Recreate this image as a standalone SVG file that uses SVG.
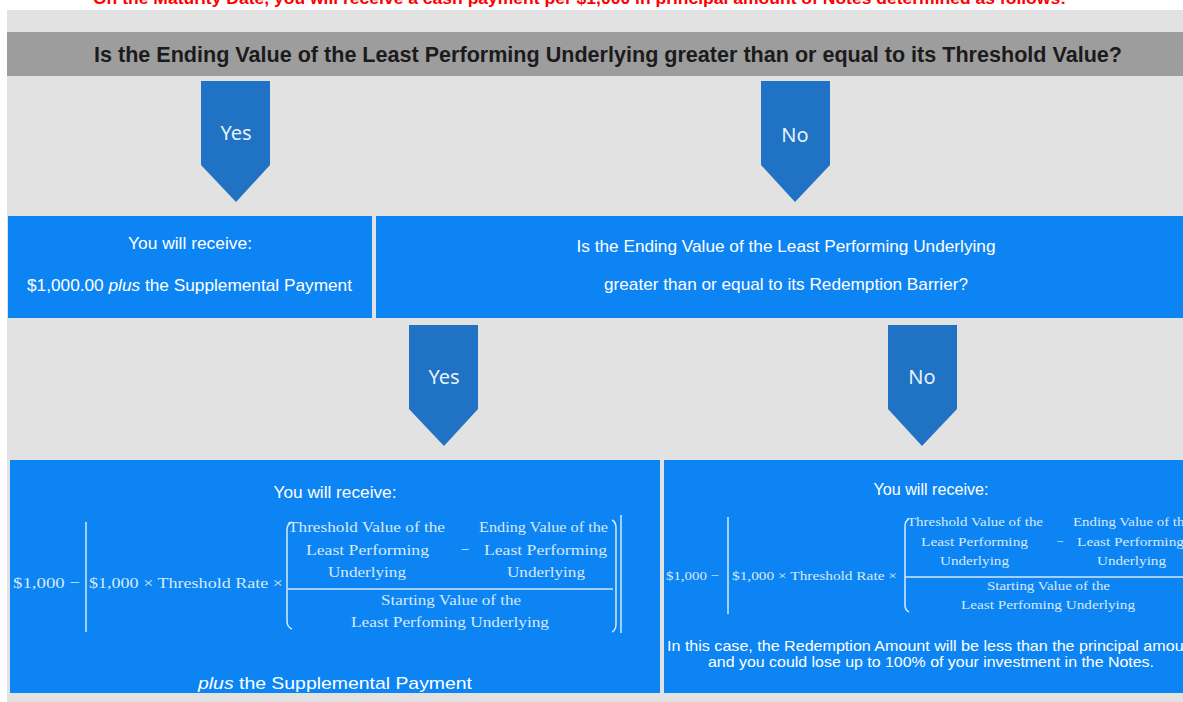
<svg xmlns="http://www.w3.org/2000/svg" width="1183" height="702" viewBox="0 0 1183 702">
<defs>
<style>
.sans{font-family:"Liberation Sans",Arial,sans-serif}
.hdr{font-family:"Liberation Sans",Arial,sans-serif;font-weight:bold;font-size:22px;fill:#1b1b1b}
.red{font-family:"Liberation Sans",Arial,sans-serif;font-weight:bold;font-size:17px;fill:#ff0000}
.wt{font-family:"Liberation Sans",Arial,sans-serif;font-size:17px;fill:#ffffff}
.arr{fill:#1f72c4}
.arrt{font-family:"Noto Sans","Open Sans",sans-serif;font-size:20px;fill:#e6f1fb}
.box{fill:#0d84f3}
.fm{font-family:"Liberation Serif","Times New Roman",serif;font-size:15.5px;fill:#d6eafc}
.fs{font-family:"Liberation Serif","Times New Roman",serif;font-size:13px;fill:#d6eafc}
.ln{stroke:#d6eafc;fill:none;stroke-width:1.5}
.note{font-family:"Liberation Sans",Arial,sans-serif;font-size:15px;fill:#ffffff}
</style>
</defs>
<rect x="0" y="0" width="1183" height="702" fill="#ffffff"/>
<rect x="7" y="10" width="1176" height="692" fill="#e2e2e2"/>
<text class="red" x="93" y="4" textLength="973" lengthAdjust="spacingAndGlyphs">On the Maturity Date, you will receive a cash payment per $1,000 in principal amount of Notes determined as follows:</text>

<g id="q1">
<rect x="7" y="32" width="1176" height="44" fill="#9d9d9d"/>
<text class="hdr" x="94" y="62" textLength="1028" lengthAdjust="spacingAndGlyphs">Is the Ending Value of the Least Performing Underlying greater than or equal to its Threshold Value?</text>
</g>

<g id="connectors">
<g id="yes1"><polygon class="arr" points="201,81 270,81 270,165 236,202 201,165"/><text class="arrt" x="236" y="140" text-anchor="middle">Yes</text></g>
<g id="no1"><polygon class="arr" points="761,81 830,81 830,165 795,202 761,165"/><text class="arrt" x="795" y="142" text-anchor="middle">No</text></g>
<g id="yes2"><polygon class="arr" points="409,325 478,325 478,409 444,446 409,409"/><text class="arrt" x="444" y="384" text-anchor="middle">Yes</text></g>
<g id="no2"><polygon class="arr" points="888,325 957,325 957,409 922,446 888,409"/><text class="arrt" x="922" y="384" text-anchor="middle">No</text></g>
</g>

<g id="res1">
<rect class="box" x="8" y="216" width="364" height="102"/>
<text class="wt" x="190" y="249" text-anchor="middle" textLength="124" lengthAdjust="spacingAndGlyphs">You will receive:</text>
<text class="wt" x="27" y="291" textLength="325" lengthAdjust="spacingAndGlyphs">$1,000.00 <tspan font-style="italic">plus</tspan> the Supplemental Payment</text>
</g>

<g id="q2">
<rect class="box" x="376" y="216" width="807" height="102"/>
<text class="wt" x="786" y="252" text-anchor="middle" textLength="419" lengthAdjust="spacingAndGlyphs">Is the Ending Value of the Least Performing Underlying</text>
<text class="wt" x="786" y="290" text-anchor="middle" textLength="364" lengthAdjust="spacingAndGlyphs">greater than or equal to its Redemption Barrier?</text>
</g>

<g id="res2">
<rect class="box" x="10" y="460" width="650" height="233"/>
<text class="wt" x="335" y="498" text-anchor="middle" textLength="123" lengthAdjust="spacingAndGlyphs">You will receive:</text>
<text class="fm" x="13" y="588" textLength="67" lengthAdjust="spacingAndGlyphs">$1,000 −</text>
<path class="ln" d="M86,522 V632"/>
<text class="fm" x="89" y="588" textLength="194" lengthAdjust="spacingAndGlyphs">$1,000 × Threshold Rate ×</text>
<path class="ln" d="M292,522 Q287,524 287,530 V621 Q287,627 292,629"/>
<text class="fm" x="288" y="532" textLength="157" lengthAdjust="spacingAndGlyphs">Threshold Value of the</text>
<text class="fm" x="306" y="555" textLength="123" lengthAdjust="spacingAndGlyphs">Least Performing</text>
<text class="fm" x="328" y="577" textLength="78" lengthAdjust="spacingAndGlyphs">Underlying</text>
<text class="fm" x="465" y="555" text-anchor="middle">−</text>
<text class="fm" x="479" y="532" textLength="129" lengthAdjust="spacingAndGlyphs">Ending Value of the</text>
<text class="fm" x="484" y="555" textLength="123" lengthAdjust="spacingAndGlyphs">Least Performing</text>
<text class="fm" x="507" y="577" textLength="78" lengthAdjust="spacingAndGlyphs">Underlying</text>
<path class="ln" d="M288,589 H613"/>
<text class="fm" x="381" y="605" textLength="140" lengthAdjust="spacingAndGlyphs">Starting Value of the</text>
<text class="fm" x="351" y="627" textLength="198" lengthAdjust="spacingAndGlyphs">Least Perfoming Underlying</text>
<path class="ln" d="M612,520 Q616,522 616,528 V624 Q616,630 612,632"/>
<path class="ln" d="M621,515 V633"/>
<text class="wt" x="198" y="689" font-size="20" textLength="274" lengthAdjust="spacingAndGlyphs"><tspan font-style="italic">plus</tspan> the Supplemental Payment</text>
</g>

<g id="res3">
<rect class="box" x="664" y="460" width="519" height="233"/>
<text class="wt" x="931" y="495" text-anchor="middle" textLength="115" lengthAdjust="spacingAndGlyphs">You will receive:</text>
<text class="fs" x="666" y="580" textLength="53" lengthAdjust="spacingAndGlyphs">$1,000 −</text>
<path class="ln" d="M728,517 V614"/>
<text class="fs" x="732" y="580" textLength="165" lengthAdjust="spacingAndGlyphs">$1,000 × Threshold Rate ×</text>
<path class="ln" d="M909,519 Q905,521 905,526 V605 Q905,610 909,612"/>
<text class="fs" x="907" y="526" textLength="136" lengthAdjust="spacingAndGlyphs">Threshold Value of the</text>
<text class="fs" x="921" y="546" textLength="107" lengthAdjust="spacingAndGlyphs">Least Performing</text>
<text class="fs" x="940" y="565" textLength="69" lengthAdjust="spacingAndGlyphs">Underlying</text>
<text class="fs" x="1060" y="546" text-anchor="middle">−</text>
<text class="fs" x="1073" y="526" textLength="118" lengthAdjust="spacingAndGlyphs">Ending Value of the</text>
<text class="fs" x="1077" y="546" textLength="107" lengthAdjust="spacingAndGlyphs">Least Performing</text>
<text class="fs" x="1097" y="565" textLength="69" lengthAdjust="spacingAndGlyphs">Underlying</text>
<path class="ln" d="M905,577 H1183"/>
<text class="fs" x="987" y="590" textLength="123" lengthAdjust="spacingAndGlyphs">Starting Value of the</text>
<text class="fs" x="961" y="609" textLength="174" lengthAdjust="spacingAndGlyphs">Least Perfoming Underlying</text>
<text class="note" x="667" y="651" textLength="530" lengthAdjust="spacingAndGlyphs">In this case, the Redemption Amount will be less than the principal amount</text>
<text class="note" x="708" y="667" textLength="446" lengthAdjust="spacingAndGlyphs">and you could lose up to 100% of your investment in the Notes.</text>
</g>
</svg>
